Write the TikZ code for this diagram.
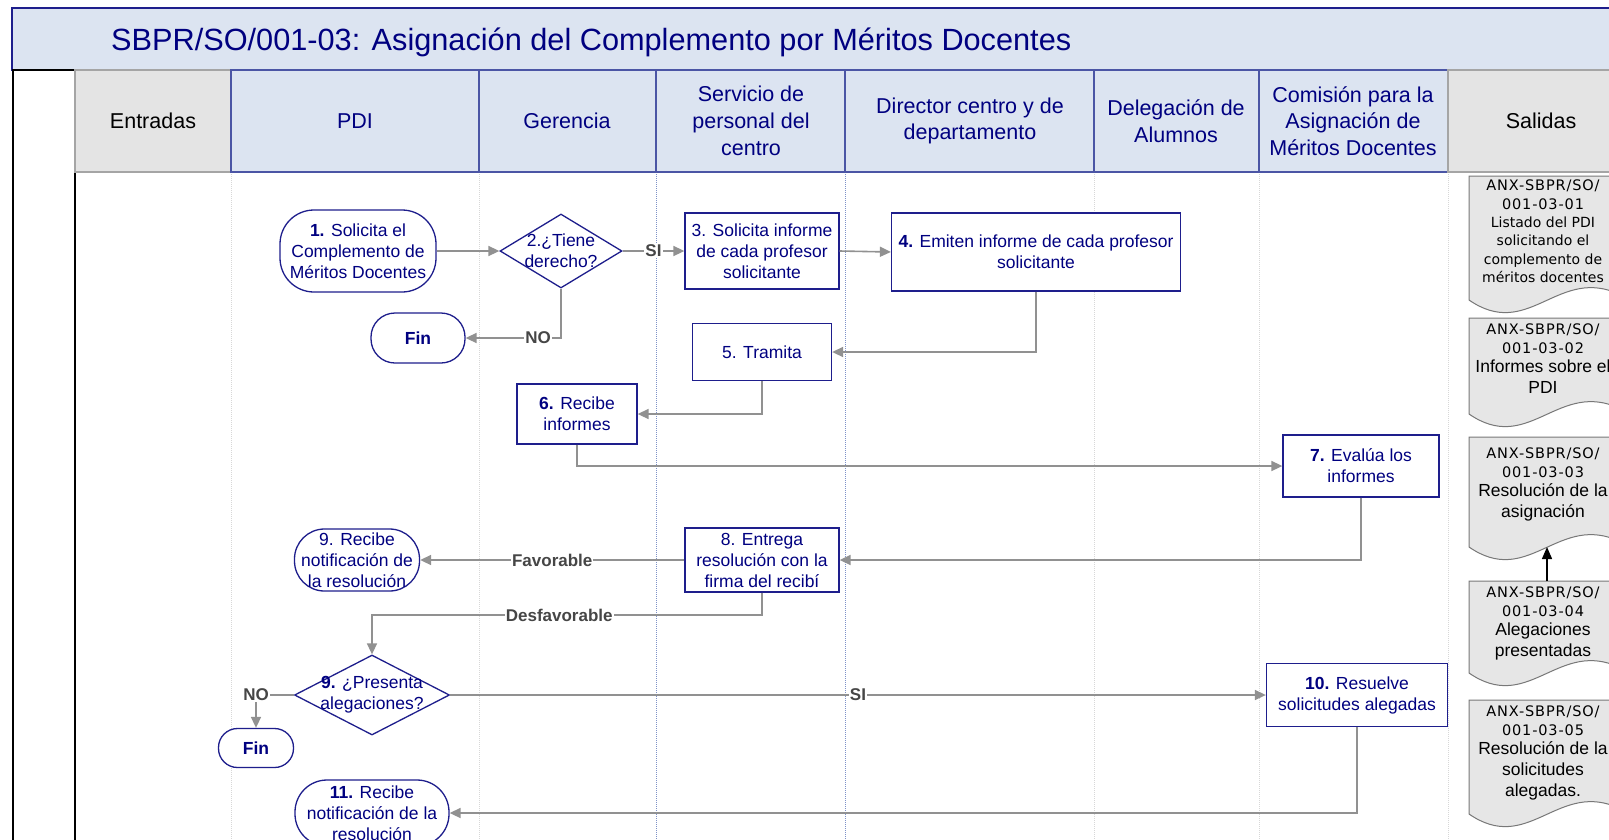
\documentclass[tikz,border=0pt]{standalone}
\usepackage{fontspec}
\setmainfont{Liberation Sans}
\newfontfamily\docfam{DejaVu Sans}
\newfontfamily\anxfam[LetterSpace=6]{DejaVu Sans}
\usetikzlibrary{arrows.meta,shapes.geometric}
\definecolor{myNavy}{RGB}{0,0,128}
\definecolor{nodeB}{RGB}{30,30,140}
\definecolor{connG}{RGB}{145,145,145}
\definecolor{lblG}{RGB}{70,70,70}
\definecolor{hdBlue}{RGB}{220,228,241}
\definecolor{hdBlueB}{RGB}{75,85,165}
\definecolor{hdGray}{RGB}{228,228,228}
\definecolor{hdGrayB}{RGB}{165,165,165}
\definecolor{laneG}{RGB}{215,215,215}
\definecolor{laneB}{RGB}{125,145,200}
\definecolor{docFill}{RGB}{230,230,230}
\definecolor{docB}{RGB}{120,120,120}
\newcommand\ndfont{\fontsize{17.5}{21}\selectfont}
\newcommand\hdfont{\fontsize{21.5}{26.7}\selectfont}
\newcommand\lbfont{\bfseries\fontsize{17}{20}\selectfont}
\newcommand\ttlfont{\fontsize{30.7}{36}\selectfont}
\newcommand\bgd{\normalfont\fontsize{17.5}{19.5}\selectfont}
\newcommand\anx{\anxfam\fontsize{14.5}{18.5}\selectfont}
\newcommand\mydoc[3]{%
  \draw[fill=docFill, draw=docB, line width=1pt]
    (#1,#2) -- (#1+145,#2) -- (#1+145,#3-8)
    .. controls (#1+87,#3-30) and (#1+58,#3+40) .. (#1,#3) -- cycle;}
\tikzset{
  proc/.style={draw=nodeB, line width=1.3pt, fill=white, text=myNavy,
    align=center, font=\ndfont, inner sep=0pt},
  dia/.style={diamond, draw=nodeB, line width=1.3pt, fill=white, inner sep=0pt},
  dtext/.style={text=myNavy, align=center, font=\ndfont, inner sep=0pt},
  conn/.style={draw=connG, line width=1.6pt, -{Triangle[length=11pt,width=10pt]}},
  lbl/.style={fill=white, text=lblG, font=\lbfont, inner sep=1pt},
  hdtxt/.style={text=myNavy, align=center, font=\hdfont, inner sep=0pt},
  hblue/.style={fill=hdBlue, draw=hdBlueB, line width=1.2pt},
  hgray/.style={fill=hdGray, draw=hdGrayB, line width=1.2pt},
  doctxt/.style={anchor=north, align=center, inner sep=0pt, text=black,
    font=\docfam\fontsize{14}{18.3}\selectfont},
}
\begin{document}
\begin{tikzpicture}[x=1pt,y=-1pt]
\clip (0,0) rectangle (1609,839);
\fill[white] (0,0) rectangle (1609,839);
% title band
\draw[fill=hdBlue, draw=nodeB, line width=1.5pt] (12,8) rectangle (1650,70);
\node[anchor=base west, font=\ttlfont, text=myNavy, inner sep=0pt] (title) at (111,50)
  {SBPR/SO/001-03: Asignación del Complemento por Méritos Docentes};
% left column
\draw[black, line width=2pt, fill=white] (12.5,70) rectangle (75,860);
% lane lines
\foreach \xx in {231,479,1094,1259,1448}
  \draw[laneG, line width=1pt, densely dotted] (\xx,172) -- (\xx,845);
\foreach \xx in {656,845}
  \draw[laneB, line width=1pt, densely dotted] (\xx,172) -- (\xx,845);
% header cells
\draw[hgray] (75,70) rectangle (231,172);
\draw[hblue] (231,70) rectangle (479,172);
\draw[hblue] (479,70) rectangle (656,172);
\draw[hblue] (656,70) rectangle (845,172);
\draw[hblue] (845,70) rectangle (1094,172);
\draw[hblue] (1094,70) rectangle (1259,172);
\draw[hblue] (1259,70) rectangle (1448,172);
\draw[hgray] (1448,70) rectangle (1650,172);
\node[hdtxt, text=black] (hEnt) at (153,121) {Entradas};
\node[hdtxt] (hPDI) at (355,121) {PDI};
\node[hdtxt] (hGer) at (567,121) {Gerencia};
\node[hdtxt] (hSer) at (751,121) {Servicio de\\personal del\\centro};
\node[hdtxt] (hDir) at (970,121) {Director centro y de\\departamento};
\node[hdtxt] (hDel) at (1176,121) {Delegación de\\Alumnos};
\node[hdtxt] (hCom) at (1353,121) {Comisión para la\\Asignación de\\Méritos Docentes};
\node[hdtxt, text=black] (hSal) at (1541,121) {Salidas};
% process nodes
\node[proc, rounded corners=34pt, minimum width=156pt, minimum height=82pt] (n1) at (358,251)
  {\textbf{1.} Solicita el\\Complemento de\\Méritos Docentes};
\node[dia, minimum width=122pt, minimum height=74pt] (d2) at (561,251) {};
\node[dtext] (d2t) at (d2) {2.¿Tiene\\derecho?};
\node[proc, minimum width=154pt, minimum height=76pt] (n3) at (762,251)
  {3. Solicita informe\\de cada profesor\\solicitante};
\node[proc, minimum width=289pt, minimum height=78pt] (n4) at (1036,252)
  {\textbf{4.} Emiten informe de cada profesor\\solicitante};
\node[proc, rounded corners=24pt, minimum width=94pt, minimum height=50pt] (fin1) at (418,338)
  {\textbf{Fin}};
\node[proc, minimum width=139pt, minimum height=57pt] (n5) at (762,352) {5. Tramita};
\node[proc, minimum width=120pt, minimum height=60pt] (n6) at (577,414)
  {\textbf{6.} Recibe\\informes};
\node[proc, minimum width=156pt, minimum height=62pt] (n7) at (1361,466)
  {\textbf{7.} Evalúa los\\informes};
\node[proc, minimum width=154pt, minimum height=64pt] (n8) at (762,560)
  {8. Entrega\\resolución con la\\firma del recibí};
\node[proc, rounded corners=30pt, minimum width=125pt, minimum height=62pt] (n9) at (357,560)
  {9. Recibe\\notificación de\\la resolución};
\node[dia, minimum width=155pt, minimum height=80pt] (d9) at (372,695) {};
\node[dtext] (d9t) at (d9) {\textbf{9.} ¿Presenta\\alegaciones?};
\node[proc, rounded corners=19pt, minimum width=75pt, minimum height=39pt] (fin2) at (256,748)
  {\textbf{Fin}};
\node[proc, minimum width=181pt, minimum height=63pt] (n10) at (1357,695)
  {\textbf{10.} Resuelve\\solicitudes alegadas};
\node[proc, rounded corners=32pt, minimum width=154pt, minimum height=66pt] (n11) at (372,813)
  {\textbf{11.} Recibe\\notificación de la\\resolución};
% connectors
\draw[conn] (n1.east) -- (d2.west);
\draw[conn] (d2.east) -- node[lbl] {SI} (n3.west);
\draw[conn] (d2.south) |- node[lbl, pos=0.62] {NO} (fin1.east);
\draw[conn] (n3.east) -- (n4.west);
\draw[conn] (n4.south) |- (n5.east);
\draw[conn] (n5.south) |- (n6.east);
\draw[conn] (n6.south) |- (n7.west);
\draw[conn] (n7.south) |- (n8.east);
\draw[conn] (n8.west) -- node[lbl] {Favorable} (n9.east);
\coordinate (k8) at (372,615);
\draw[conn] (n8.south) |- node[lbl, pos=0.76] {Desfavorable} (k8) -- (d9.north);
\draw[conn] (d9.west) -| node[lbl, pos=0.5] {NO} (fin2.north);
\draw[conn] (d9.east) -- node[lbl] {SI} (n10.west);
\draw[conn] (n10.south) |- (n11.east);
% output documents
\mydoc{1469}{176}{300}
\mydoc{1469}{318}{414}
\mydoc{1469}{437}{547}
\mydoc{1469}{581}{673}
\mydoc{1469}{700}{814}
\node[doctxt] (doc1) at (1543,180)
  {{\anx ANX-SBPR/SO/}\\{\anx 001-03-01}\\Listado del PDI\\solicitando el\\complemento de\\méritos docentes};
\node[doctxt] (doc2) at (1543,324)
  {{\anx ANX-SBPR/SO/}\\{\anx 001-03-02}\\[1pt]{\bgd Informes sobre el}\\[2.5pt]{\bgd PDI}};
\node[doctxt] (doc3) at (1543,448)
  {{\anx ANX-SBPR/SO/}\\{\anx 001-03-03}\\[1pt]{\bgd Resolución de la}\\[2.5pt]{\bgd asignación}};
\node[doctxt] (doc4) at (1543,587)
  {{\anx ANX-SBPR/SO/}\\{\anx 001-03-04}\\[1pt]{\bgd Alegaciones}\\[2.5pt]{\bgd presentadas}};
\node[doctxt] (doc5) at (1543,706)
  {{\anx ANX-SBPR/SO/}\\{\anx 001-03-05}\\[1pt]{\bgd Resolución de la}\\[2.5pt]{\bgd solicitudes}\\[2.5pt]{\bgd alegadas.}};
\coordinate (doc4top) at (1547,581);
\coordinate (doc3bot) at (1547,547);
\draw[black, line width=1.3pt, -{Triangle[length=12pt,width=10pt]}] (doc4top) -- (doc3bot);
\end{tikzpicture}
\end{document}
